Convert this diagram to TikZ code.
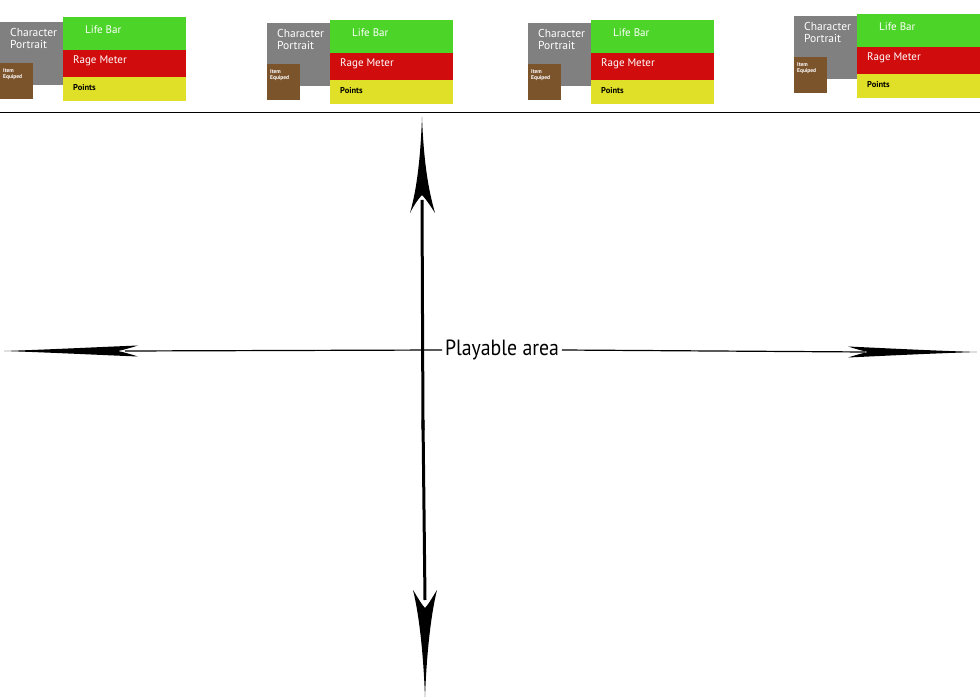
\documentclass[tikz,border=0pt]{standalone}
\usepackage{fontspec}
\setmainfont{PT Sans}
\definecolor{pgray}{RGB}{128,128,128}
\definecolor{lgreen}{RGB}{76,212,40}
\definecolor{rred}{RGB}{208,12,12}
\definecolor{pyel}{RGB}{224,224,40}
\definecolor{ibrown}{RGB}{124,84,44}
\tikzset{
 wtxt/.style={text=white, font=\fontsize{11}{12}\selectfont, anchor=west, inner sep=0pt},
 btxt/.style={text=black, font=\bfseries\fontsize{8.5}{9}\selectfont, anchor=west, inner sep=0pt},
 itxt/.style={text=white, font=\bfseries\fontsize{5.5}{6}\selectfont, align=left, anchor=north west, inner sep=0pt},
 ptxt/.style={text=white, font=\fontsize{11.5}{12}\selectfont, align=left, anchor=north west, inner sep=0pt},
 head/.style={fill=black, draw=none},
}
\newcommand{\hud}[3]{%
 \fill[pgray] (#1,#2) rectangle ++(63,63);
 \fill[lgreen] (#1+63,#3) rectangle ++(123,33);
 \fill[rred] (#1+63,#3+33) rectangle ++(123,27);
 \fill[pyel] (#1+63,#3+60) rectangle ++(123,24);
 \fill[ibrown] (#1,#2+41) rectangle ++(33,36);
 \node[ptxt] at (#1+10,#2+6) {Character\\Portrait};
 \node[wtxt] at (#1+85,#3+13) {Life Bar};
 \node[wtxt] at (#1+73,#3+44) {Rage Meter};
 \node[btxt] at (#1+73,#3+71) {Points};
 \node[itxt] at (#1+3,#2+46) {Item\\Equiped};
}
\begin{document}
\begin{tikzpicture}[x=1pt,y=-1pt]
\useasboundingbox (0,0) rectangle (980,700);
\hud{0}{22}{17}
\hud{267}{23}{20}
\hud{528}{23}{20}
\hud{794}{16}{14}
\draw[line width=0.8pt] (0,112) -- (980,112);
\node[font=\fontsize{22}{24}\selectfont, inner sep=3pt, xscale=0.9] (lbl) at (502,350) {Playable area};
\coordinate (top) at (422,117);
\coordinate (bot) at (425,697);
\coordinate (l) at (4,351);
\coordinate (r) at (977,352);
% shaft
\draw[line width=3pt] (422,200) -- (423,430);
\draw[line width=3pt] (423,420) -- (425,600);
\draw[line width=1.2pt] (lbl.west) -- (125,351);
\draw[line width=1.2pt] (lbl.east) -- (865,352);
% heads
\fill[head] (top) .. controls (424,170) and (430,195) .. (435,213)
  .. controls (430,205) and (425,198) .. (422,195)
  .. controls (419,198) and (414,205) .. (410,213)
  .. controls (415,195) and (420,170) .. (top) -- cycle;
\fill[head] (bot) .. controls (427,645) and (432,610) .. (437,590)
  .. controls (432,598) and (428,605) .. (425,608)
  .. controls (422,605) and (418,598) .. (413,590)
  .. controls (418,610) and (423,645) .. (bot) -- cycle;
\fill[head] (l) .. controls (50,349.5) and (100,347) .. (138,345.5)
  .. controls (130,348) and (123,350) .. (118,351)
  .. controls (123,352) and (130,354) .. (138,356.5)
  .. controls (100,355) and (50,352.5) .. (l) -- cycle;
\fill[head] (r) .. controls (930,350.5) and (880,348) .. (848,346.5)
  .. controls (856,349) and (863,351) .. (868,352)
  .. controls (863,353) and (856,355) .. (848,357.5)
  .. controls (880,356) and (930,353.5) .. (r) -- cycle;
\end{tikzpicture}
\end{document}
